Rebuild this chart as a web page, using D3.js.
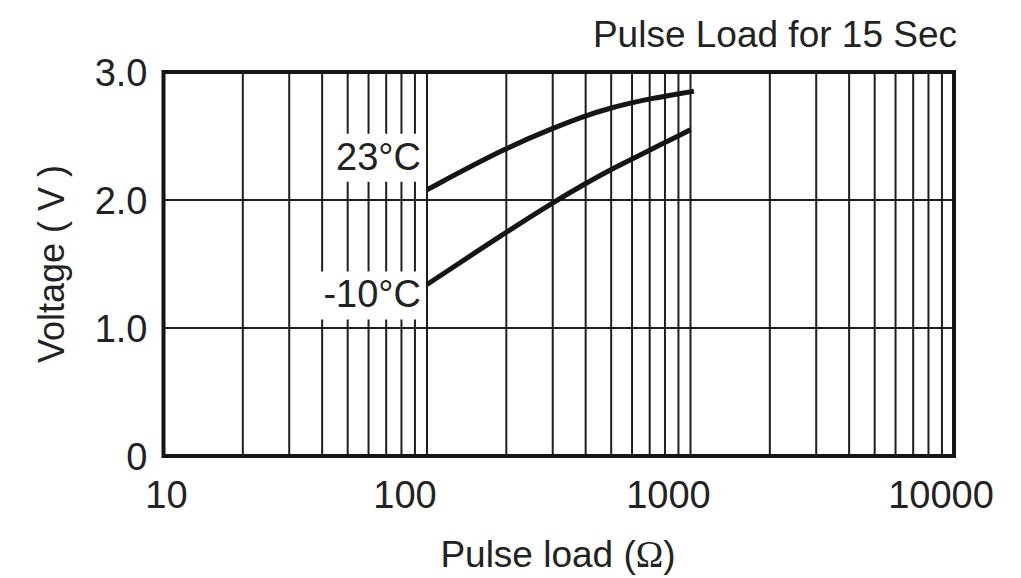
<!DOCTYPE html>
<html>
<head>
<meta charset="utf-8">
<script src="https://cdn.jsdelivr.net/npm/d3@7"></script>
<style>
  body { margin: 0; background: #fff; }
  text { font-family: "Liberation Sans", Arial, sans-serif; fill: #222; }
</style>
</head>
<body>
<div id="chart"></div>
<script>
// data
var loads23 = [100, 200, 300, 400, 500, 600, 700, 900, 1030];
var volts23 = [2.08, 2.41, 2.56, 2.66, 2.72, 2.76, 2.79, 2.83, 2.85];
var loadsM10 = [100, 200, 300, 400, 500, 600, 700, 900, 1000];
var voltsM10 = [1.34, 1.75, 1.98, 2.13, 2.24, 2.32, 2.39, 2.50, 2.55];
var seriesNames = ["23°C", "-10°C"];
var xTicks = [10, 100, 1000, 10000];
var yTicks = [0, 1, 2, 3];
var yTickLabels = ["0", "1.0", "2.0", "3.0"];

var width = 1021, height = 578;
var margin = { top: 72, right: 67, bottom: 122, left: 163.5 };

var svg = d3.select("#chart")
  .append("svg")
  .attr("width", width)
  .attr("height", height);

var x = d3.scaleLog()
  .domain([10, 10000])
  .range([margin.left, width - margin.right]);

var y = d3.scaleLinear()
  .domain([0, 3])
  .range([height - margin.bottom, margin.top]);

// minor log grid (2..9 in every decade)
var gridX = [];
[10, 100, 1000].forEach(function (d) {
  for (var i = 2; i <= 9; i++) gridX.push(d * i);
});
gridX.push(100, 1000);

svg.append("g")
  .selectAll("line")
  .data(gridX)
  .enter().append("line")
  .attr("x1", function (d) { return x(d); })
  .attr("x2", function (d) { return x(d); })
  .attr("y1", y(0))
  .attr("y2", y(3))
  .attr("stroke", "#1e1e1e")
  .attr("stroke-width", 2);

svg.append("g")
  .selectAll("line")
  .data([1, 2])
  .enter().append("line")
  .attr("x1", x(10))
  .attr("x2", x(10000))
  .attr("y1", function (d) { return y(d); })
  .attr("y2", function (d) { return y(d); })
  .attr("stroke", "#1e1e1e")
  .attr("stroke-width", 2);

// series labels with white boxes hiding the grid
var series = [
  { name: seriesNames[0], loads: loads23, volts: volts23, dy: -20 },
  { name: seriesNames[1], loads: loadsM10, volts: voltsM10, dy: 23 }
];

var labels = svg.append("g");
series.forEach(function (s) {
  var t = labels.append("text")
    .attr("x", x(s.loads[0]) - 6)
    .attr("y", y(s.volts[0]) + s.dy)
    .attr("text-anchor", "end")
    .attr("font-size", 38)
    .text(s.name);
  var b = t.node().getBBox();
  labels.insert("rect", "text")
    .attr("x", b.x - 4)
    .attr("y", b.y - 2)
    .attr("width", b.width + 6)
    .attr("height", b.height + 6)
    .attr("fill", "#fff");
});

// curves
var line = d3.line()
  .x(function (d) { return x(d[0]); })
  .y(function (d) { return y(d[1]); })
  .curve(d3.curveBasis);

series.forEach(function (s) {
  svg.append("path")
    .datum(d3.zip(s.loads, s.volts))
    .attr("fill", "none")
    .attr("stroke", "#151515")
    .attr("stroke-width", 5)
    .attr("d", line);
});

// frame
svg.append("rect")
  .attr("x", x(10))
  .attr("y", y(3))
  .attr("width", x(10000) - x(10))
  .attr("height", y(0) - y(3))
  .attr("fill", "none")
  .attr("stroke", "#151515")
  .attr("stroke-width", 4);

// y tick labels
svg.append("g")
  .selectAll("text")
  .data(yTicks)
  .enter().append("text")
  .attr("x", x(10) - 16)
  .attr("y", function (d) { return y(d); })
  .attr("dy", "0.36em")
  .attr("text-anchor", "end")
  .attr("font-size", 38)
  .text(function (d, i) { return yTickLabels[i]; });

// x tick labels
svg.append("g")
  .selectAll("text")
  .data(xTicks)
  .enter().append("text")
  .attr("x", function (d, i) {
    if (i === 0) return x(d) + 3;
    if (i === xTicks.length - 1) return x(d) - 13;
    return x(d) - 22;
  })
  .attr("y", y(0) + 52)
  .attr("text-anchor", "middle")
  .attr("font-size", 38)
  .text(function (d) { return d; });

// axis titles
var xt = svg.append("text")
  .attr("x", 558)
  .attr("y", 567)
  .attr("text-anchor", "middle")
  .attr("font-size", 37);
xt.append("tspan").text("Pulse load (");
xt.append("tspan").attr("font-family", "'Liberation Serif', serif").text("Ω");
xt.append("tspan").text(")");

svg.append("text")
  .attr("transform", "translate(64," + 264 + ") rotate(-90)")
  .attr("text-anchor", "middle")
  .attr("font-size", 36)
  .text("Voltage ( V )");

svg.append("text")
  .attr("x", 957)
  .attr("y", 47)
  .attr("text-anchor", "end")
  .attr("font-size", 37)
  .text("Pulse Load for 15 Sec");
</script>
</body>
</html>
